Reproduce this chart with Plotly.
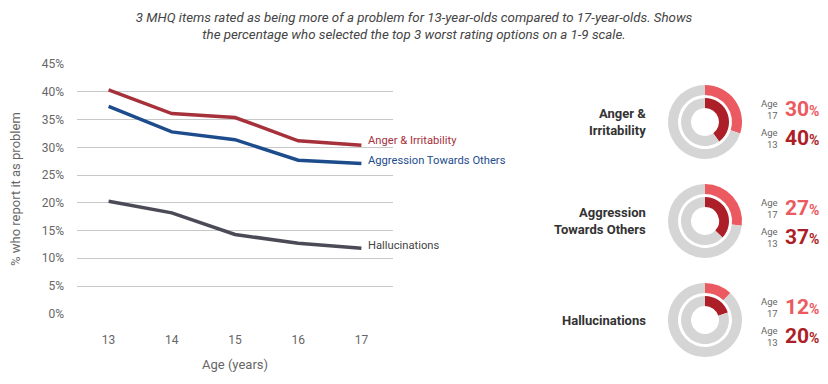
import plotly.graph_objects as go

# ---------------- data ----------------
ages = [13, 14, 15, 16, 17]
anger = [40.4, 36.1, 35.4, 31.2, 30.4]
aggression = [37.4, 32.8, 31.4, 27.7, 27.1]
hallucinations = [20.3, 18.2, 14.3, 12.7, 11.8]
series_names = ["Anger & Irritability", "Aggression Towards Others", "Hallucinations"]
y_ticks = [0, 5, 10, 15, 20, 25, 30, 35, 40, 45]
y_tick_labels = [f"{v}%" for v in y_ticks]

donut_items = ["Anger &<br>Irritability", "Aggression<br>Towards Others", "Hallucinations"]
age17_pct = [30, 27, 12]
age13_pct = [40, 37, 20]

# ---------------- styles ----------------
W, H = 828, 384
FONT = "Roboto, 'Noto Sans', sans-serif"
line_colors = ["#a6313b", "#1d4c8c", "#4b4b57"]
label_colors = ["#a6313b", "#1d4c8c", "#444444"]
label_yshift = [5, 3, 3]
LIGHT_RED = "#ec5a61"
DARK_RED = "#ad1f28"
RING_GRAY = "#d5d5d5"

fig = go.Figure()

series = [anger, aggression, hallucinations]
for name, vals, col in zip(series_names, series, line_colors):
    fig.add_trace(go.Scatter(x=ages, y=vals, mode="lines", name=name,
                             line=dict(color=col, width=3.5),
                             xaxis="x", yaxis="y", showlegend=False,
                             hoverinfo="skip"))

annotations = []
for name, vals, col, ys in zip(series_names, series, label_colors, label_yshift):
    annotations.append(dict(x=ages[-1], y=vals[-1], xref="x", yref="y",
                            text=name, showarrow=False, xanchor="left",
                            yanchor="middle", xshift=5, yshift=ys,
                            font=dict(family=FONT, size=11.2, color=col)))

# axis titles
annotations.append(dict(x=15 / W, y=1 - 189 / H, xref="paper", yref="paper",
                        text="% who report it as problem", textangle=-90,
                        showarrow=False, xanchor="center", yanchor="middle",
                        font=dict(family=FONT, size=13, color="#666666")))
annotations.append(dict(x=235 / W, y=1 - 364 / H, xref="paper", yref="paper",
                        text="Age (years)", showarrow=False,
                        xanchor="center", yanchor="middle",
                        font=dict(family=FONT, size=13, color="#666666")))

# ---------------- donuts ----------------
cx = 705
centers_y = [122, 221, 320]
R_OUT, R_IN = 37, 24
HOLE_OUT, HOLE_IN = 27 / 37, 14 / 24


def dom(cx_, cy_, r):
    return dict(x=[(cx_ - r) / W, (cx_ + r) / W],
                y=[1 - (cy_ + r) / H, 1 - (cy_ - r) / H])


for item, v17, v13, cy in zip(donut_items, age17_pct, age13_pct, centers_y):
    fig.add_trace(go.Pie(values=[v17, 100 - v17], hole=HOLE_OUT, sort=False,
                         direction="clockwise", rotation=0,
                         marker=dict(colors=[LIGHT_RED, RING_GRAY], line=dict(width=0)),
                         textinfo="none", hoverinfo="skip", showlegend=False,
                         domain=dom(cx, cy, R_OUT)))
    fig.add_trace(go.Pie(values=[v13, 100 - v13], hole=HOLE_IN, sort=False,
                         direction="clockwise", rotation=0,
                         marker=dict(colors=[DARK_RED, RING_GRAY], line=dict(width=0)),
                         textinfo="none", hoverinfo="skip", showlegend=False,
                         domain=dom(cx, cy, R_IN)))
    # item label
    annotations.append(dict(x=648 / W, y=1 - cy / H, xref="paper", yref="paper",
                            text=f"<b>{item}</b>", showarrow=False,
                            xanchor="right", yanchor="middle", align="right",
                            font=dict(family=FONT, size=13, color="#333333")))
    for age, val, col, dy in (("17", v17, LIGHT_RED, -13), ("13", v13, DARK_RED, 16)):
        yy = 1 - (cy + dy) / H
        annotations.append(dict(x=780 / W, y=yy, xref="paper", yref="paper",
                                text=f"Age<br>{age}", showarrow=False,
                                xanchor="right", yanchor="middle", align="right",
                                font=dict(family=FONT, size=9.5, color="#666666")))
        annotations.append(dict(x=783 / W, y=yy, xref="paper", yref="paper",
                                text=f"<b>{val}</b><span style='font-size:14px'><b>%</b></span>",
                                showarrow=False, xanchor="left", yanchor="middle",
                                font=dict(family=FONT, size=21, color=col)))

fig.update_layout(
    width=W, height=H,
    margin=dict(l=0, r=0, t=0, b=0),
    paper_bgcolor="white", plot_bgcolor="white",
    title=dict(text="3 MHQ items rated as being more of a problem for 13-year-olds compared to 17-year-olds. Shows<br>the percentage who selected the top 3 worst rating options on a 1-9 scale.",
               x=0.5, xanchor="center", xref="paper", y=1 - 22 / H, yanchor="middle",
               yref="container",
               font=dict(family=FONT, size=13.3, color="#444444", style="italic")),
    xaxis=dict(domain=[77 / W, 393 / W], range=[12.5, 17.5], tickvals=ages,
               showgrid=False, zeroline=False, showline=False, automargin=False,
               ticklabelstandoff=17,
               tickfont=dict(family=FONT, size=12, color="#666666")),
    yaxis=dict(domain=[1 - 314 / H, 1 - 64 / H], range=[-0.05, 45.05],
               tickvals=y_ticks, ticktext=y_tick_labels,
               showgrid=True, gridcolor="#c8c8c8", gridwidth=1,
               zeroline=False, showline=False, automargin=False,
               ticklabelstandoff=12,
               tickfont=dict(family=FONT, size=12, color="#666666")),
    annotations=annotations,
)

fig.write_html("out.html", config={"displayModeBar": False},
               post_script="document.body.style.margin='0';document.body.style.overflow='hidden';")
